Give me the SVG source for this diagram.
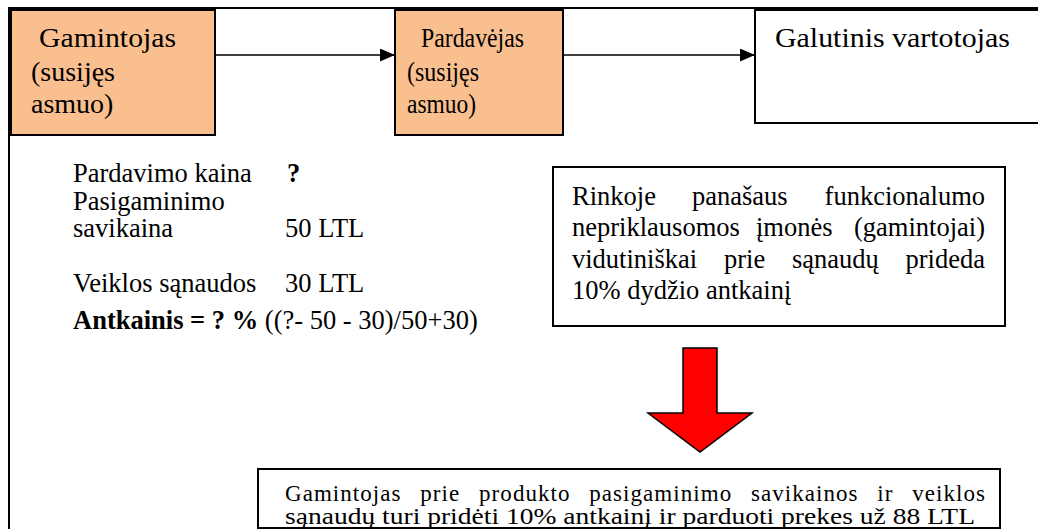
<svg xmlns="http://www.w3.org/2000/svg" width="1038" height="529" viewBox="0 0 1038 529" font-family="'Liberation Serif', Tinos, 'Times New Roman', 'DejaVu Serif', serif">
  <style>
    text { font-family: 'Liberation Serif', Tinos, 'Times New Roman', 'DejaVu Serif', serif; fill: #000; }
    .box { fill: #FABF8F; stroke: #000; stroke-width: 2; }
    .plain { fill: #fff; stroke: #000; stroke-width: 2; }
    .conn { stroke: #000; stroke-width: 1.6; fill: none; }
    .lbl { font-size: 28px; }
    .body { font-size: 26.5px; }
    .small { font-size: 23px; }
    .b { font-weight: bold; }
  </style>
  <defs>
    <marker id="arrow" markerWidth="15" markerHeight="13" refX="15" refY="6.5" orient="auto" markerUnits="userSpaceOnUse">
      <path d="M0,0 L15,6.5 L0,13 Z" fill="#000"/>
    </marker>
  </defs>

  <rect width="1038" height="529" fill="#fff"/>

  <!-- outer frame (only top and left edges fall inside the page) -->
  <rect x="9" y="8" width="1100" height="600" fill="none" stroke="#000" stroke-width="2"/>

  <g id="connectors">
    <line class="conn" x1="215" y1="55" x2="395" y2="55" marker-end="url(#arrow)"/>
    <line class="conn" x1="563" y1="55" x2="755" y2="55" marker-end="url(#arrow)"/>
    <!-- big red block arrow -->
    <path d="M683,348 L717,348 L717,413 L752,413 L700,452 L648,413 L683,413 Z" fill="#FF0000" stroke="#000" stroke-width="1.5"/>
  </g>

  <g id="gamintojas">
    <rect class="box" x="11" y="10" width="204" height="125"/>
    <text class="lbl" x="39" y="47" textLength="137" lengthAdjust="spacingAndGlyphs">Gamintojas</text>
    <text class="lbl" x="31" y="81">(susijęs</text>
    <text class="lbl" x="31" y="113">asmuo)</text>
  </g>

  <g id="pardavejas">
    <rect class="box" x="395" y="10" width="168" height="125"/>
    <text class="lbl" x="421" y="47" textLength="103" lengthAdjust="spacingAndGlyphs">Pardavėjas</text>
    <text class="lbl" x="407" y="81" textLength="72" lengthAdjust="spacingAndGlyphs">(susijęs</text>
    <text class="lbl" x="407" y="113" textLength="69" lengthAdjust="spacingAndGlyphs">asmuo)</text>
  </g>

  <g id="galutinis">
    <rect class="plain" x="755" y="10" width="320" height="113"/>
    <text class="lbl" x="775" y="47" textLength="235" lengthAdjust="spacingAndGlyphs">Galutinis vartotojas</text>
  </g>

  <g id="skaiciavimas">
    <text class="body" x="73" y="182">Pardavimo kaina</text>
    <text class="body b" x="287" y="182">?</text>
    <text class="body" x="73" y="210">Pasigaminimo</text>
    <text class="body" x="73" y="237">savikaina</text>
    <text class="body" x="285" y="237">50 LTL</text>
    <text class="body" x="73" y="292">Veiklos sąnaudos</text>
    <text class="body" x="285" y="292">30 LTL</text>
    <text class="body" x="73" y="329"><tspan class="b">Antkainis = ? %</tspan> ((?- 50 - 30)/50+30)</text>
  </g>

  <g id="rinka">
    <rect class="plain" x="553" y="167" width="452" height="159"/>
    <text class="body" y="205"><tspan x="572">Rinkoje</tspan><tspan x="692">panašaus</tspan></text>
    <text class="body" x="985" y="205" text-anchor="end">funkcionalumo</text>
    <text class="body" y="236"><tspan x="572">nepriklausomos</tspan><tspan x="756">įmonės</tspan></text>
    <text class="body" x="985" y="236" text-anchor="end">(gamintojai)</text>
    <text class="body" y="268"><tspan x="572">vidutiniškai</tspan><tspan x="724">prie</tspan><tspan x="792">sąnaudų</tspan></text>
    <text class="body" x="985" y="268" text-anchor="end">prideda</text>
    <text class="body" x="572" y="299">10% dydžio antkainį</text>
  </g>

  <g id="isvada">
    <rect class="plain" x="258" y="469" width="742" height="59"/>
    <text class="small" x="285" y="501" textLength="700" lengthAdjust="spacing" style="word-spacing:12px">Gamintojas prie produkto pasigaminimo savikainos ir veiklos</text>
    <text class="small" x="285" y="524" textLength="690" lengthAdjust="spacingAndGlyphs">sąnaudų turi pridėti 10% antkainį ir parduoti prekes už 88 LTL</text>
  </g>
</svg>
